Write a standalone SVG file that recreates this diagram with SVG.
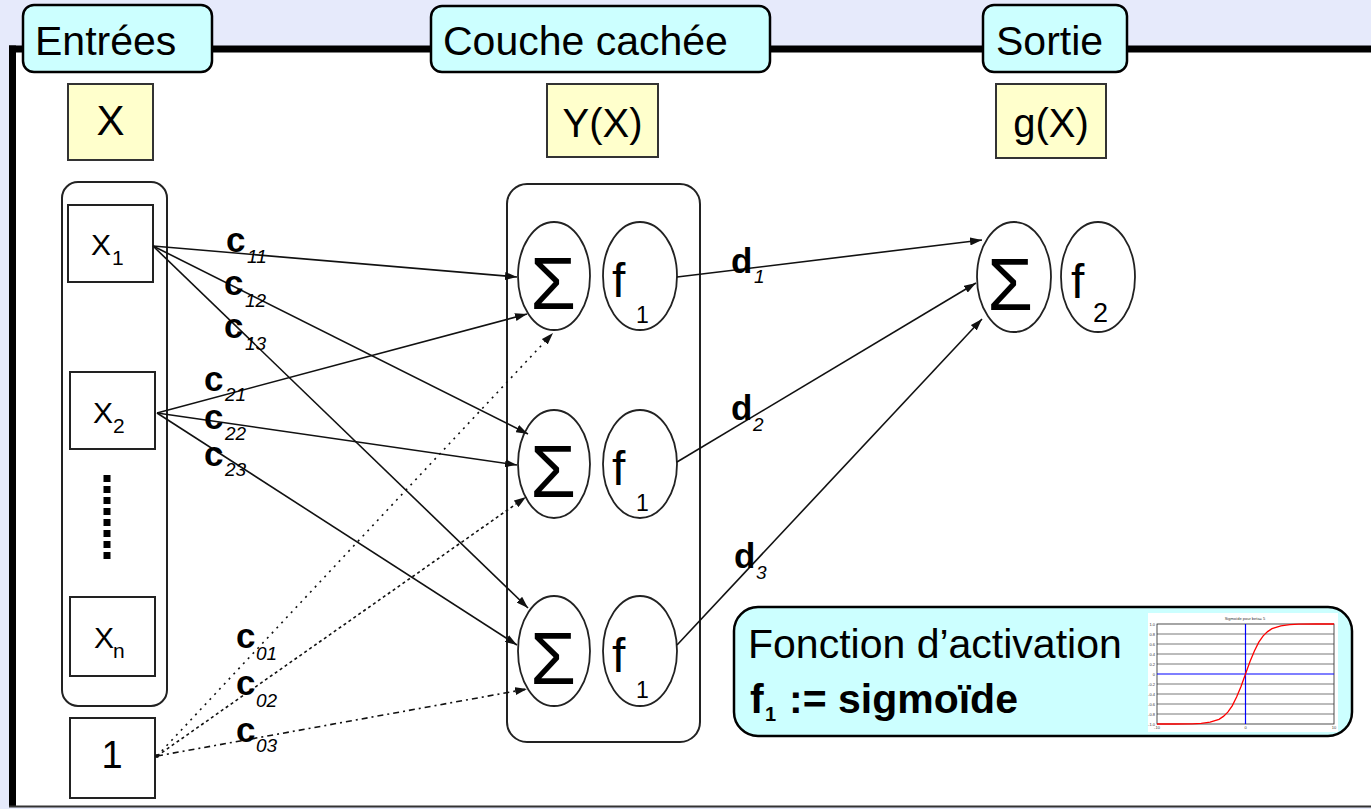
<svg xmlns="http://www.w3.org/2000/svg" width="1371" height="809" viewBox="0 0 1371 809">
<defs>
<style>
.t{font-family:"Liberation Sans",Arial,sans-serif;fill:#000}
.hdr{fill:#CCFFFF;stroke:#000;stroke-width:2.5}
.yel{fill:#FFFFCC;stroke:#333;stroke-width:2}
.box{fill:#fff;stroke:#222;stroke-width:2}
.ell{fill:#fff;stroke:#222;stroke-width:1.8}
.cont{fill:none;stroke:#222;stroke-width:2}
.ln{fill:none;stroke:#111;stroke-width:1.6}
.w{font-family:"Liberation Sans",Arial,sans-serif;font-weight:bold;font-size:35px}
.s{font-family:"Liberation Sans",Arial,sans-serif;font-style:italic;font-size:19px}
.grid{stroke:#555;stroke-width:0.8}
.tiny{font-family:"Liberation Sans",Arial,sans-serif;font-size:4px;fill:#333}
</style>
<marker id="ah" viewBox="0 0 12 8" refX="12" refY="4" markerWidth="12" markerHeight="8" markerUnits="userSpaceOnUse" orient="auto">
<path d="M0,0 L12,4 L0,8 z" fill="#111"/>
</marker>
</defs>

<rect x="0" y="0" width="1371" height="809" fill="#E6EAFB"/>
<rect x="12" y="49" width="1359" height="757" fill="#fff"/>
<line x1="9" y1="49" x2="1371" y2="49" stroke="#000" stroke-width="7"/>
<line x1="12.5" y1="45.5" x2="12.5" y2="806" stroke="#000" stroke-width="7"/>
<line x1="9" y1="806.5" x2="1371" y2="806.5" stroke="#333" stroke-width="2"/>

<g id="hdr-entrees"><rect class="hdr" x="23" y="5" width="189" height="67" rx="11"/><text class="t" x="35" y="55" font-size="41">Entrées</text></g>
<g id="hdr-couche"><rect class="hdr" x="431" y="6" width="339" height="66" rx="11"/><text class="t" x="443" y="55" font-size="41">Couche cachée</text></g>
<g id="hdr-sortie"><rect class="hdr" x="983" y="5" width="144" height="67" rx="11"/><text class="t" x="996" y="55" font-size="41">Sortie</text></g>

<g id="lbl-X"><rect class="yel" x="68" y="84" width="85" height="76"/><text class="t" x="110.5" y="135" font-size="42" text-anchor="middle" fill="#222">X</text></g>
<g id="lbl-YX"><rect class="yel" x="547" y="84" width="111" height="73"/><text class="t" x="602.5" y="137" font-size="40" text-anchor="middle" fill="#222">Y(X)</text></g>
<g id="lbl-gX"><rect class="yel" x="996" y="84" width="110" height="74"/><text class="t" x="1051" y="137" font-size="40" text-anchor="middle" fill="#222">g(X)</text></g>

<g id="inputs-container"><rect class="cont" x="62" y="182" width="105" height="524" rx="16"/>
<line x1="107" y1="475" x2="107" y2="562" stroke="#000" stroke-width="7" stroke-dasharray="7,4"/></g>
<g id="in-x1"><rect class="box" x="68" y="205" width="85" height="77"/><text class="t" x="91" y="255" font-size="30" fill="#222">X</text><text class="t" x="112" y="265" font-size="21" fill="#222">1</text></g>
<g id="in-x2"><rect class="box" x="70" y="372" width="85" height="77"/><text class="t" x="93" y="423" font-size="30" fill="#222">X</text><text class="t" x="113" y="433" font-size="21" fill="#222">2</text></g>
<g id="in-xn"><rect class="box" x="70" y="597" width="85" height="79"/><text class="t" x="94" y="648" font-size="30" fill="#222">X</text><text class="t" x="113" y="658" font-size="21" fill="#222">n</text></g>
<g id="in-1"><rect class="box" x="70" y="718" width="85" height="80"/><text class="t" x="112" y="768" font-size="38" text-anchor="middle" fill="#222">1</text></g>

<g id="hidden-container"><rect class="cont" x="507" y="184" width="193" height="558" rx="20"/></g>
<g id="h1"><ellipse class="ell" cx="554" cy="276" rx="36" ry="54"/><text class="t" x="553" y="309" font-size="74" text-anchor="middle">Σ</text>
<ellipse class="ell" cx="640" cy="276" rx="37" ry="54"/><text class="t" x="612" y="297" font-size="48">f</text><text class="t" x="636" y="323" font-size="23">1</text></g>
<g id="h2"><ellipse class="ell" cx="554" cy="464" rx="36" ry="54"/><text class="t" x="553" y="497" font-size="74" text-anchor="middle">Σ</text>
<ellipse class="ell" cx="640" cy="464" rx="37" ry="54"/><text class="t" x="612" y="485" font-size="48">f</text><text class="t" x="636" y="511" font-size="23">1</text></g>
<g id="h3"><ellipse class="ell" cx="554" cy="651" rx="36" ry="55"/><text class="t" x="553" y="684" font-size="74" text-anchor="middle">Σ</text>
<ellipse class="ell" cx="640" cy="651" rx="37" ry="55"/><text class="t" x="612" y="672" font-size="48">f</text><text class="t" x="636" y="698" font-size="23">1</text></g>

<g id="out"><ellipse class="ell" cx="1014" cy="277" rx="37" ry="55"/><text class="t" x="1010" y="310" font-size="74" text-anchor="middle">Σ</text>
<ellipse class="ell" cx="1098" cy="277" rx="37" ry="55"/><text class="t" x="1071" y="298" font-size="48">f</text><text class="t" x="1093" y="322" font-size="27">2</text></g>

<g id="connectors">
<line class="ln" x1="153" y1="246" x2="517" y2="277" marker-end="url(#ah)"/>
<line class="ln" x1="153" y1="246" x2="528" y2="434" marker-end="url(#ah)"/>
<line class="ln" x1="153" y1="246" x2="528" y2="608" marker-end="url(#ah)"/>
<line class="ln" x1="157" y1="413" x2="527" y2="314" marker-end="url(#ah)"/>
<line class="ln" x1="157" y1="413" x2="517" y2="465" marker-end="url(#ah)"/>
<line class="ln" x1="157" y1="413" x2="517" y2="645" marker-end="url(#ah)"/>
<line class="ln" x1="157" y1="756" x2="553" y2="333" stroke-dasharray="2,5" marker-end="url(#ah)"/>
<line class="ln" x1="157" y1="756" x2="526" y2="497" stroke-dasharray="3,3" marker-end="url(#ah)"/>
<line class="ln" x1="157" y1="756" x2="527" y2="689" stroke-dasharray="6,4,2,4" marker-end="url(#ah)"/>
<circle cx="157" cy="756" r="2" fill="#111"/>
<line class="ln" x1="677" y1="277" x2="982" y2="240" marker-end="url(#ah)"/>
<line class="ln" x1="677" y1="462" x2="976" y2="283" marker-end="url(#ah)"/>
<line class="ln" x1="677" y1="645" x2="982" y2="319" marker-end="url(#ah)"/>

<text class="w" x="226" y="252">c</text><text class="s" x="247" y="263">11</text>
<text class="w" x="224" y="295">c</text><text class="s" x="245" y="307">12</text>
<text class="w" x="224" y="338">c</text><text class="s" x="245" y="350">13</text>
<text class="w" x="204" y="391">c</text><text class="s" x="225" y="401">21</text>
<text class="w" x="204" y="429">c</text><text class="s" x="225" y="440">22</text>
<text class="w" x="204" y="466">c</text><text class="s" x="225" y="476">23</text>
<text class="w" x="236" y="648">c</text><text class="s" x="256" y="660">01</text>
<text class="w" x="236" y="695">c</text><text class="s" x="256" y="707">02</text>
<text class="w" x="236" y="742">c</text><text class="s" x="256" y="752">03</text>
<text class="w" x="731" y="273" font-size="31">d</text><text class="s" x="754" y="283">1</text>
<text class="w" x="731" y="420" font-size="31">d</text><text class="s" x="753" y="431">2</text>
<text class="w" x="734" y="568" font-size="31">d</text><text class="s" x="756" y="579">3</text>
</g>

<g id="activation">
<rect class="hdr" x="734" y="607" width="618" height="129" rx="24"/>
<text class="t" x="748" y="658" font-size="41">Fonction d’activation</text>
<text class="t" x="750" y="713" font-size="41" font-weight="bold">f</text>
<text class="t" x="765" y="721" font-size="20" font-weight="bold">1</text>
<text class="t" x="789" y="713" font-size="41" font-weight="bold">:= sigmoïde</text>
<rect x="1148" y="613" width="190" height="119" fill="#fff"/>
<g id="chart">
<text class="tiny" x="1245" y="620" text-anchor="middle">Sigmoïde pour beta= 5</text>
<line class="grid" x1="1157" y1="634" x2="1334" y2="634"/>
<line class="grid" x1="1157" y1="644" x2="1334" y2="644"/>
<line class="grid" x1="1157" y1="654" x2="1334" y2="654"/>
<line class="grid" x1="1157" y1="664" x2="1334" y2="664"/>
<line class="grid" x1="1157" y1="684" x2="1334" y2="684"/>
<line class="grid" x1="1157" y1="694" x2="1334" y2="694"/>
<line class="grid" x1="1157" y1="704" x2="1334" y2="704"/>
<line class="grid" x1="1157" y1="714" x2="1334" y2="714"/>
<rect x="1157" y="624" width="177" height="100" fill="none" stroke="#222" stroke-width="0.8"/>
<line x1="1157" y1="674" x2="1334" y2="674" stroke="#00f" stroke-width="1.2"/>
<line x1="1245.5" y1="624" x2="1245.5" y2="724" stroke="#00f" stroke-width="1.2"/>
<polyline fill="none" stroke="#f00" stroke-width="1.3" points="1157,724 1174.7,724 1192.4,723.8 1201.2,723.3 1210.1,722.2 1219,719.3 1223.4,716.4 1227.8,712.1 1232.2,705.8 1236.6,697.1 1241.1,686.3 1245.5,674 1249.9,661.7 1254.4,650.9 1258.8,642.2 1263.2,635.9 1267.6,631.6 1272,628.7 1280.9,625.8 1289.8,624.7 1298.6,624.2 1316.3,624 1334,624"/>
<text class="tiny" x="1155" y="626" text-anchor="end">1.0</text>
<text class="tiny" x="1155" y="636" text-anchor="end">0.8</text>
<text class="tiny" x="1155" y="646" text-anchor="end">0.6</text>
<text class="tiny" x="1155" y="656" text-anchor="end">0.4</text>
<text class="tiny" x="1155" y="666" text-anchor="end">0.2</text>
<text class="tiny" x="1155" y="676" text-anchor="end">0</text>
<text class="tiny" x="1155" y="686" text-anchor="end">-0.2</text>
<text class="tiny" x="1155" y="696" text-anchor="end">-0.4</text>
<text class="tiny" x="1155" y="706" text-anchor="end">-0.6</text>
<text class="tiny" x="1155" y="716" text-anchor="end">-0.8</text>
<text class="tiny" x="1155" y="726" text-anchor="end">-1.0</text>
<text class="tiny" x="1157" y="729" text-anchor="middle">-10</text>
<text class="tiny" x="1245.5" y="729" text-anchor="middle">0</text>
<text class="tiny" x="1334" y="729" text-anchor="middle">10</text>
</g>
</g>
</svg>
